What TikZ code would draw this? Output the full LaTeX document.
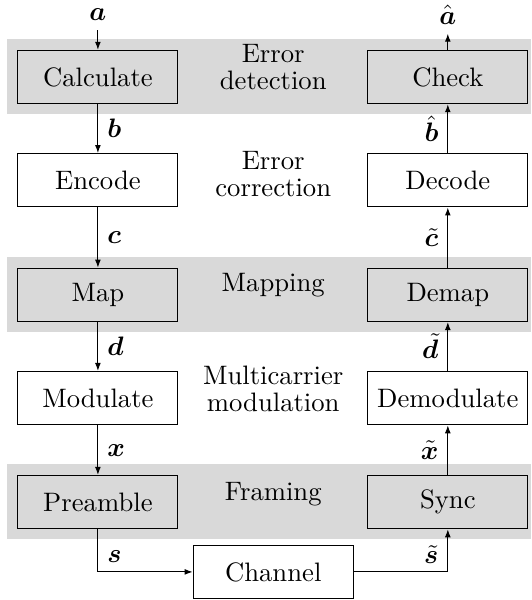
\documentclass[tikz,border=0pt]{standalone}
\usepackage{amsmath}
\usepackage{bm}
\usetikzlibrary{arrows.meta}

\tikzset{
    block/.style={draw, minimum width=60pt, minimum height=20pt},
    band/.style={fill=black!15},
    layer/.style={align=center},
    sig/.style={-{Latex[length=3pt,width=2.2pt]}},
}

\begin{document}
\begin{tikzpicture}
    \useasboundingbox (0,0) rectangle (7.0,7.905);
    % grey bands
    \fill[band] (0.09,6.40) rectangle (7.0,7.39);
    \fill[band] (0.09,3.53) rectangle (7.0,4.52);
    \fill[band] (0.09,0.80) rectangle (7.0,1.79);

    % layer names
    \node[layer] (det) at (3.6,7.02) {Error\\[-2pt]detection};
    \node[layer] (cor) at (3.6,5.61) {Error\\[-2pt]correction};
    \node[layer] (mapl) at (3.6,4.15) {Mapping};
    \node[layer] (mcm) at (3.6,2.78) {Multicarrier\\[-2pt]modulation};
    \node[layer] (frm) at (3.6,1.40) {Framing};

    % transmitter
    \node (a) at (1.29,7.71) {$\bm{a}$};
    \node[block] (calc) at (1.29,6.89) {Calculate};
    \node[block] (enc) at (1.29,5.53) {Encode};
    \node[block] (map) at (1.29,4.02) {Map};
    \node[block] (mod) at (1.29,2.66) {Modulate};
    \node[block] (pre) at (1.29,1.29) {Preamble};

    % receiver
    \node (ahat) at (5.9,7.71) {$\hat{\bm{a}}$};
    \node[block] (chk) at (5.9,6.89) {Check};
    \node[block] (dec) at (5.9,5.53) {Decode};
    \node[block] (demap) at (5.9,4.02) {Demap};
    \node[block] (demod) at (5.9,2.66) {Demodulate};
    \node[block] (sync) at (5.9,1.29) {Sync};

    \node[block] (chan) at (3.6,0.37) {Channel};

    \draw[sig] (a) -- (calc);
    \draw[sig] (calc) -- node[right] (lb) {$\bm{b}$} (enc);
    \draw[sig] (enc) -- node[right] (lc) {$\bm{c}$} (map);
    \draw[sig] (map) -- node[right] (ld) {$\bm{d}$} (mod);
    \draw[sig] (mod) -- node[right] (lx) {$\bm{x}$} (pre);
    \draw[sig] (pre.south) |- node[pos=0.32, right] (ls) {$\bm{s}$} (chan.west);

    \draw[sig] (chan.east) -| node[pos=0.7, left] (lst) {$\tilde{\bm{s}}$} (sync.south);
    \draw[sig] (sync) -- node[left] (lxt) {$\tilde{\bm{x}}$} (demod);
    \draw[sig] (demod) -- node[left] (ldt) {$\tilde{\bm{d}}$} (demap);
    \draw[sig] (demap) -- node[left] (lct) {$\tilde{\bm{c}}$} (dec);
    \draw[sig] (dec) -- node[left] (lbh) {$\hat{\bm{b}}$} (chk);
    \draw[sig] (chk) -- (ahat);
\end{tikzpicture}
\end{document}
